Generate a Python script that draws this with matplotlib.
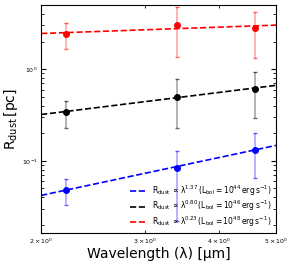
import numpy as np
import matplotlib
matplotlib.use("Agg")
import matplotlib.pyplot as plt

# wavelengths of the three bands [um]
wave = [2.2, 3.4, 4.6]

# dust radius [pc] and error bar ends, per luminosity
lbol = [44, 46, 48]
colors = ["blue", "black", "red"]
r_dust = [[0.048, 0.083, 0.132],
          [0.34, 0.50, 0.605],
          [2.41, 3.02, 2.78]]
r_hi = [[0.0627, 0.128, 0.20],
        [0.448, 0.778, 0.92],
        [3.15, 4.71, 4.22]]
r_lo = [[0.0329, 0.022, 0.0645],
        [0.231, 0.227, 0.294],
        [1.64, 1.36, 1.34]]

# power-law fits R = A * lambda^slope
fit_amp = [0.01625, 0.1838, 2.088]
fit_slope = [1.37, 0.80, 0.23]

fig = plt.figure(figsize=(2.94, 2.67), dpi=100)
ax = fig.add_axes([0.14, 0.127, 0.799, 0.854])

lam = np.linspace(2, 5, 50)
for i in range(3):
    y = np.array(r_dust[i])
    yerr = [y - np.array(r_lo[i]), np.array(r_hi[i]) - y]
    eb = ax.errorbar(wave, y, yerr=yerr, fmt="o", color=colors[i], ms=4,
                     ecolor=colors[i], elinewidth=1.2, capsize=1.5,
                     zorder=3)
    # lighter error bars, solid markers
    for c in eb[2]:
        c.set_alpha(0.35)
    for cap in eb[1]:
        cap.set_alpha(0.6)
    ax.plot(lam, fit_amp[i] * lam ** fit_slope[i], ls="--", color=colors[i],
            lw=1.2, zorder=2,
            label=r"$\rm R_{dust}\,\propto\,\lambda^{%.2f}\,(L_{bol}=10^{%d}\,erg\,s^{-1})$"
            % (fit_slope[i], lbol[i]))

ax.set_xscale("log")
ax.set_yscale("log")
ax.set_xlim(2, 5)
ax.set_ylim(0.0163, 5.0)
ax.tick_params(which="both", direction="in", top=True, right=True,
               labelsize=4.5, pad=2.5)
ax.set_xlabel("Wavelength (λ) [μm]", fontsize=10, labelpad=1)
ax.set_ylabel(r"$\rm R_{dust}\,[pc]$", fontsize=10, labelpad=1)
ax.legend(loc="lower right", fontsize=5.5, frameon=False, handlelength=2.3,
          labelspacing=0.12, borderaxespad=0.2, handletextpad=0.6)

fig.savefig("out.png", dpi=100)
